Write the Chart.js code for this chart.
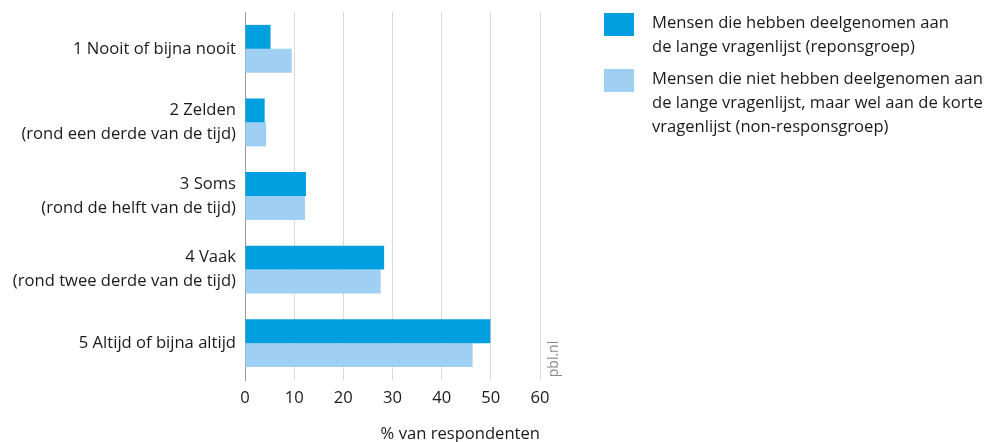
<!DOCTYPE html>
<html>
<head>
<meta charset="utf-8">
<script src="https://cdn.jsdelivr.net/npm/chart.js@4/dist/chart.umd.min.js"></script>
<style>
html,body{margin:0;padding:0;background:#fff;}
canvas{display:block;}
</style>
</head>
<body>
<canvas id="c" width="992" height="442"></canvas>
<script>
const categories = [
  ["1 Nooit of bijna nooit"],
  ["2 Zelden", "(rond een derde van de tijd)"],
  ["3 Soms", "(rond de helft van de tijd)"],
  ["4 Vaak", "(rond twee derde van de tijd)"],
  ["5 Altijd of bijna altijd"]
];
const responsgroep = [5.2, 4.0, 12.4, 28.3, 49.9];
const nonResponsgroep = [9.5, 4.3, 12.2, 27.6, 46.3];
const seriesLabels = [
  ["Mensen die hebben deelgenomen aan", "de lange vragenlijst (reponsgroep)"],
  ["Mensen die niet hebben deelgenomen aan", "de lange vragenlijst, maar wel aan de korte", "vragenlijst (non-responsgroep)"]
];
const xTicks = [0, 10, 20, 30, 40, 50, 60];
const axisTitle = "% van respondenten";
const sourceText = "pbl.nl";

const FONT = "'Open Sans', sans-serif";
const DARK = "#009fe0";
const LIGHT = "#9fcff3";
const TEXT = "#1a1a1a";

const customPlugin = {
  id: 'custom',
  afterDraw(chart) {
    const ctx = chart.ctx;
    ctx.save();
    const colors = [DARK, LIGHT];
    const boxTops = [13, 69];
    ctx.font = "16.6px " + FONT;
    ctx.textBaseline = "middle";
    ctx.textAlign = "left";
    seriesLabels.forEach((lines, i) => {
      ctx.fillStyle = colors[i];
      ctx.fillRect(604, boxTops[i], 30, 23);
      ctx.fillStyle = TEXT;
      lines.forEach((ln, j) => {
        ctx.fillText(ln, 652, boxTops[i] + 10 + j * 24);
      });
    });
    ctx.translate(554, 359);
    ctx.rotate(-Math.PI / 2);
    ctx.font = "14px " + FONT;
    ctx.fillStyle = "#8a8a8a";
    ctx.textAlign = "center";
    ctx.fillText(sourceText, 0, 0);
    ctx.restore();
  }
};

new Chart(document.getElementById('c'), {
  type: 'bar',
  data: {
    labels: categories,
    datasets: [
      { label: seriesLabels[0].join(' '), data: responsgroep, backgroundColor: DARK, borderWidth: 0 },
      { label: seriesLabels[1].join(' '), data: nonResponsgroep, backgroundColor: LIGHT, borderWidth: 0 }
    ]
  },
  options: {
    indexAxis: 'y',
    responsive: false,
    animation: false,
    devicePixelRatio: 1,
    categoryPercentage: 0.65,
    barPercentage: 1,
    layout: { padding: { top: 12, right: 452, left: 0, bottom: 0 } },
    plugins: {
      legend: { display: false },
      tooltip: { enabled: false }
    },
    scales: {
      x: {
        min: 0, max: 60,
        afterBuildTicks(scale) { scale.ticks = xTicks.map(v => ({ value: v })); },
        afterFit(scale) { scale.height = 62; },
        grid: { color: "#d9d9d9", drawTicks: false, lineWidth: 1 },
        border: { display: false },
        ticks: { font: { family: FONT, size: 16.6 }, color: TEXT, padding: 8 },
        title: { display: true, text: axisTitle, align: 'end', font: { family: FONT, size: 16.6, lineHeight: 0.95 }, color: TEXT, padding: { top: 0, bottom: 0 } }
      },
      y: {
        afterFit(scale) { scale.width = 245; scale.paddingTop = 0; scale.paddingBottom = 0; },
        grid: { display: false, drawTicks: false },
        border: { display: true, color: "#9a9a9a", width: 1 },
        ticks: { font: { family: FONT, size: 16.6, lineHeight: 1.45 }, color: TEXT, padding: 9 }
      }
    }
  },
  plugins: [customPlugin]
});
</script>
</body>
</html>
